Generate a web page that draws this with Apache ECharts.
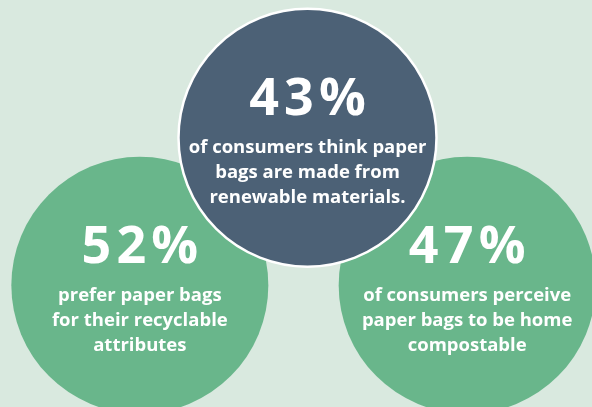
<!DOCTYPE html>
<html><head><meta charset="utf-8">
<script src="https://cdn.jsdelivr.net/npm/echarts@6/dist/echarts.min.js"></script>
<style>html,body{margin:0;padding:0;background:#d9e9df}#c{width:592px;height:407px}</style>
</head><body><div id="c"></div>
<script>
const columns = ['left', 'middle', 'right'];
const rows = ['bottom', 'top'];
const percents = [52, 43, 47];
const descriptions = [
  'prefer paper bags\nfor their recyclable\nattributes',
  'of consumers think paper\nbags are made from\nrenewable materials.',
  'of consumers perceive\npaper bags to be home\ncompostable'
];
const placeRow = ['bottom', 'top', 'bottom'];
const fills = ['#69b68b', '#4c6176', '#69b68b'];

function spaced(s) { return s.split('').join('\u200a'); }
function item(i) {
  return {
    value: [columns[i], placeRow[i]],
    itemStyle: { color: fills[i], opacity: 1 },
    label: { formatter: '{pct|' + spaced(percents[i] + '%') + '}\n{desc|' + descriptions[i].split('\n').join('}\n{desc|') + '}' }
  };
}
const rich = {
  pct: { fontFamily: 'Open Sans', fontWeight: 'bold', fontSize: 52, color: '#fff', lineHeight: 70, align: 'center' },
  desc: { fontFamily: 'Open Sans', fontWeight: 'bold', fontSize: 18.5, color: '#fff', lineHeight: 25, align: 'center' }
};
const chart = echarts.init(document.getElementById('c'));
chart.setOption({
  backgroundColor: '#d9e9df',
  animation: false,
  grid: { left: 58, right: 43, top: 64, bottom: 48 },
  xAxis: { type: 'category', data: columns, show: false },
  yAxis: { type: 'category', data: rows, show: false },
  series: [
    {
      type: 'scatter', symbolSize: 257, z: 2,
      data: [item(0), item(2)],
      itemStyle: { opacity: 1 },
      label: { show: true, position: 'inside', rich: rich }
    },
    {
      type: 'scatter', symbolSize: 258, z: 3, symbolOffset: [4, 0],
      data: [item(1)],
      itemStyle: { borderColor: '#ffffff', borderWidth: 2.5, opacity: 1 },
      label: { show: true, position: 'inside', rich: rich }
    }
  ]
});
</script></body></html>
